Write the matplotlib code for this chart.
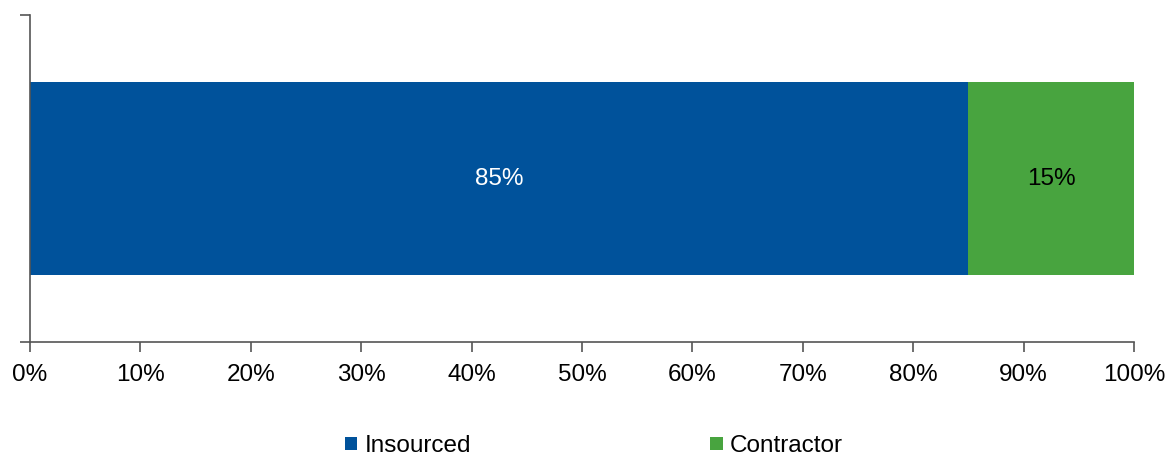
import matplotlib.pyplot as plt
from matplotlib.ticker import PercentFormatter

plt.rcParams["font.family"] = ["Liberation Sans", "DejaVu Sans"]

categories = ["Insourced", "Contractor"]
shares = [85, 15]
colors = ["#00529B", "#48A43F"]
label_colors = ["white", "black"]

fig = plt.figure(figsize=(11.67, 4.58), dpi=100)
ax = fig.add_axes([0.0257, 0.253, 0.946, 0.714])

left = 0
for name, value, color, tc in zip(categories, shares, colors, label_colors):
    ax.barh(0, value, left=left, height=0.59, color=color, label=name)
    ax.text(left + value / 2, 0, f"{value}%", ha="center", va="center",
            color=tc, fontsize=17.5)
    left += value

ax.set_xlim(0, 100)
ax.set_ylim(-0.5, 0.5)
ax.set_xticks(range(0, 101, 10))
ax.xaxis.set_major_formatter(PercentFormatter(decimals=0))
ax.set_yticks([-0.5, 0.5])
ax.set_yticklabels([])
ax.tick_params(axis="x", labelsize=17.5, length=7, width=1.2, color="#555555", pad=9)
ax.tick_params(axis="y", length=7, width=1.2, color="#555555")
for side in ["top", "right"]:
    ax.spines[side].set_visible(False)
for side in ["left", "bottom"]:
    ax.spines[side].set_color("#555555")
    ax.spines[side].set_linewidth(1.2)

fig.legend(loc="center", bbox_to_anchor=(0.509, 0.026), ncol=2, frameon=False,
           fontsize=17.5, handlelength=0.5, handleheight=0.5, handletextpad=0.3,
           columnspacing=9.85)

fig.savefig("out.png", dpi=100)
